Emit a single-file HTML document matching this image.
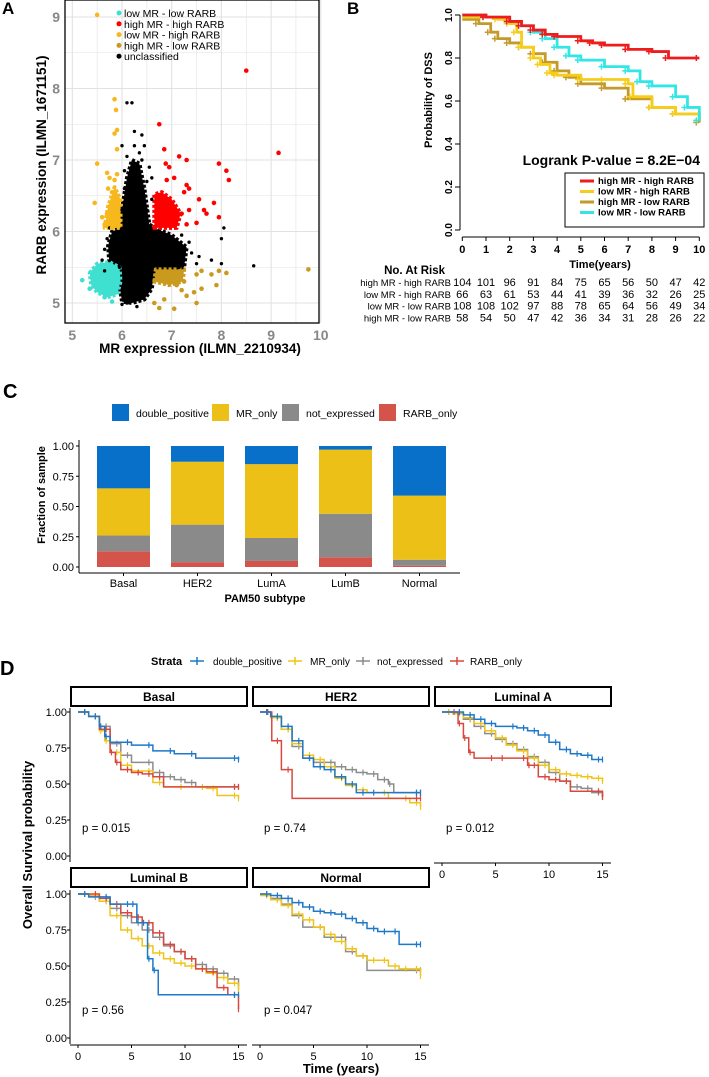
<!DOCTYPE html>
<html><head><meta charset="utf-8">
<style>
html,body{margin:0;padding:0;background:#fff;}
svg{display:block;font-family:"Liberation Sans",sans-serif;}
</style></head>
<body>
<svg id="fig" width="709" height="1077" viewBox="0 0 709 1077" xmlns="http://www.w3.org/2000/svg">
<text x="2" y="14" font-size="17" font-weight="bold">A</text>
<text x="347" y="14" font-size="17" font-weight="bold">B</text>
<text x="3" y="398" font-size="20" font-weight="bold">C</text>
<text x="0" y="675" font-size="20" font-weight="bold">D</text>
<g id="ga"></g>
<g id="gb"></g>
<g id="gc"></g>
<g id="gd"></g>
</svg>
<script>
// ---------- Panel A data ----------
const aYellow=[[5.5,9.03],[5.85,7.85],[5.88,7.7],[5.85,7.37],[5.9,7.42],[5.5,6.95],[5.7,6.82],[5.75,6.75],[5.85,6.72],[5.9,6.8],[5.72,6.6],[5.8,6.55],[5.9,6.5],[5.45,6.4],[5.6,6.2],[5.75,6.35],[5.95,6.15],[5.7,6.25],[5.9,7.15],[5.65,6.1],[5.8,6.05]];
const aRed=[[8.5,8.25],[9.15,7.1],[6.75,7.5],[6.85,7.15],[7.15,7.05],[7.3,7.0],[6.88,6.95],[6.95,6.9],[7.05,6.75],[6.9,6.72],[7.3,6.65],[7.35,6.6],[7.95,6.95],[8.1,6.85],[8.15,6.72],[7.85,6.4],[7.95,6.2],[7.55,6.45],[7.65,6.3],[7.5,6.12],[7.7,6.25],[7.25,6.55],[7.35,6.3],[7.2,6.25],[7.3,6.1]];
const aOlive=[[9.75,5.47],[7.1,5.25],[7.2,5.18],[7.25,5.3],[7.5,5.4],[7.6,5.45],[7.8,5.4],[7.95,5.45],[8.1,5.42],[7.9,5.25],[7.6,5.2],[7.3,5.1],[7.5,5.0],[6.85,5.05],[6.65,5.0],[6.75,4.93],[7.05,4.92],[7.45,5.15]];
const aCyan=[[5.2,5.32],[5.35,5.2],[5.5,5.45],[5.5,5.35],[5.65,5.08],[5.8,5.02],[5.45,5.47]];
const aBlack=[[6.2,7.8],[6.1,7.8],[6.0,7.2],[6.25,7.4],[6.4,7.35],[6.45,7.2],[6.35,7.1],[6.4,7.0],[6.1,7.05],[6.6,6.75],[6.55,6.9],[6.3,6.85],[6.15,6.8],[6.45,6.5],[6.5,6.3],[7.5,5.55],[7.25,5.6],[7.4,5.7],[7.55,5.65],[7.8,5.6],[8.0,5.55],[8.0,5.9],[8.05,6.05],[8.65,5.52],[7.6,5.45],[7.1,5.8],[7.2,5.95],[7.35,5.85],[6.0,4.98],[6.1,5.0],[6.3,4.95],[5.9,5.75],[5.6,5.6],[5.65,5.75],[5.7,5.9],[5.75,6.05],[6.0,6.0],[6.2,6.3],[5.95,5.5],[6.05,6.6],[6.3,6.6],[6.0,6.3],[6.6,6.45],[7.0,5.75],[6.9,5.6],[6.05,6.85],[6.5,6.7],[6.25,7.2],[5.65,5.45],[7.15,5.5]];
const aCoreBlack=[[5.75,5.5],[5.72,5.8],[5.8,6.0],[5.98,6.05],[6.02,6.4],[6.1,6.75],[6.2,7.0],[6.35,6.95],[6.45,6.6],[6.55,6.1],[6.65,6.05],[7.0,5.95],[7.3,5.78],[7.25,5.5],[6.95,5.47],[6.65,5.47],[6.6,5.2],[6.45,5.05],[6.2,5.0],[6.0,5.02],[5.95,5.25]];
const aCoreCyan=[[5.35,5.42],[5.5,5.55],[5.75,5.57],[5.95,5.5],[5.97,5.3],[5.9,5.12],[5.7,5.08],[5.5,5.15],[5.38,5.25]];
const aCoreRed=[[6.65,6.05],[6.65,6.52],[6.8,6.55],[7.0,6.45],[7.18,6.25],[7.1,6.05]];
const aCoreYellow=[[5.65,6.05],[5.72,6.35],[5.85,6.62],[5.97,6.45],[5.97,6.05]];
const aCoreOlive=[[6.65,5.3],[6.68,5.47],[7.25,5.47],[7.22,5.3],[6.95,5.25]];
const aXTicks=[5,6,7,8,9,10], aYTicks=[5,6,7,8,9];
const aLegend=["low MR - low RARB","high MR - high RARB","low MR - high RARB","high MR - low RARB","unclassified"];
// ---------- Panel B data ----------
const bNames=["high MR - high RARB","low MR - high RARB","high MR - low RARB","low MR - low RARB"];
const bRedT=[0,1,2,2.5,3,3.5,4,5,5.5,6,7,8,8.7,10], bRedS=[1,0.99,0.97,0.95,0.93,0.91,0.90,0.88,0.87,0.86,0.84,0.83,0.80,0.80];
const bYelT=[0,1.5,2,2.3,2.5,3,3.3,3.7,4,5,6,7,7.2,8,9,10], bYelS=[0.99,0.98,0.96,0.92,0.85,0.80,0.77,0.73,0.72,0.70,0.70,0.68,0.62,0.57,0.54,0.51];
const bOliT=[0,0.7,1.2,1.5,2,2.5,3,3.5,4,4.5,5,6,7,8,9,10], bOliS=[0.98,0.96,0.92,0.89,0.87,0.85,0.82,0.78,0.74,0.71,0.68,0.66,0.61,0.57,0.54,0.50];
const bCyaT=[0,1,2,2.5,3,3.5,4,4.5,5,6,7,7.5,8,9,9.5,10], bCyaS=[1,0.99,0.97,0.95,0.92,0.89,0.85,0.81,0.79,0.76,0.74,0.69,0.67,0.62,0.57,0.51];
const bXTicks=[0,1,2,3,4,5,6,7,8,9,10], bYTicks=[0,0.2,0.4,0.6,0.8,1.0];
const riskNames=["high MR - high RARB","low MR - high RARB","low MR - low RARB","high MR - low RARB"];
const risk1=[104,101,96,91,84,75,65,56,50,47,42];
const risk2=[66,63,61,53,44,41,39,36,32,26,25];
const risk3=[108,108,102,97,88,78,65,64,56,49,34];
const risk4=[58,54,50,47,42,36,34,31,28,26,22];
// ---------- Panel C data ----------
const cCats=["Basal","HER2","LumA","LumB","Normal"];
const cRarb=[0.13,0.04,0.05,0.08,0.01];
const cNot=[0.13,0.31,0.19,0.36,0.05];
const cMR=[0.39,0.52,0.61,0.53,0.53];
const cDouble=[0.35,0.13,0.15,0.03,0.41];
const cYTicks=[0,0.25,0.5,0.75,1.0];
// ---------- Panel D data ----------
const dPanels=["Basal","HER2","Luminal A","Luminal B","Normal"];
const dPvals=["p = 0.015","p = 0.74","p = 0.012","p = 0.56","p = 0.047"];
const dStrata=["double_positive","MR_only","not_expressed","RARB_only"];
const basalBlueT=[0,1,2,2.5,3,5,7,9,11,15], basalBlueS=[1,0.97,0.9,0.83,0.79,0.77,0.73,0.71,0.68,0.67];
const basalYelT=[0,1,2,2.5,3,4,5,7,8,10,12,13,15], basalYelS=[1,0.97,0.87,0.80,0.72,0.63,0.59,0.51,0.48,0.48,0.47,0.42,0.40];
const basalGryT=[0,1,2,3,4,5,7,8,9,10,11,15], basalGryS=[1,0.97,0.9,0.78,0.70,0.65,0.58,0.55,0.53,0.51,0.48,0.48];
const basalRedT=[0,1,2,3,3.5,4,5,6,7,8,15], basalRedS=[1,0.97,0.88,0.72,0.65,0.60,0.58,0.57,0.55,0.48,0.48];
const her2BlueT=[0,1,2,3,4,5,6,7,8,9,10,11,15], her2BlueS=[1,0.97,0.9,0.8,0.68,0.62,0.60,0.55,0.50,0.44,0.44,0.44,0.44];
const her2YelT=[0,1,2,3,4,5,6,7,8,9,10,12,14,15], her2YelS=[1,0.96,0.88,0.78,0.70,0.67,0.62,0.54,0.49,0.46,0.44,0.40,0.37,0.34];
const her2GryT=[0,1,2,3,4,5,6,7,8,9,10,11,12,12.5,15], her2GryS=[1,0.96,0.88,0.76,0.68,0.65,0.65,0.62,0.60,0.58,0.57,0.53,0.50,0.44,0.44];
const her2RedT=[0,1.1,2,3,15], her2RedS=[1,0.8,0.6,0.4,0.4];
const lumABlueT=[0,2,3,4,5,7,8,9,10,11,12,13,14,15], lumABlueS=[1,0.98,0.95,0.92,0.90,0.89,0.87,0.84,0.79,0.74,0.71,0.70,0.67,0.67];
const lumAYelT=[0,1,2,3,4,5,6,7,8,9,10,11,12,13,14,15], lumAYelS=[1,0.99,0.96,0.92,0.87,0.82,0.77,0.73,0.68,0.63,0.60,0.57,0.56,0.55,0.54,0.52];
const lumAGryT=[0,1,2,3,4,5,6,7,8,9,10,11,12,13,14,15], lumAGryS=[1,0.99,0.95,0.90,0.85,0.81,0.78,0.74,0.69,0.65,0.58,0.52,0.48,0.47,0.44,0.41];
const lumARedT=[0,1.5,2,2.5,3,5,6,8,8.5,9,10,11,12,15], lumARedS=[1,0.92,0.82,0.72,0.68,0.68,0.68,0.63,0.63,0.55,0.53,0.52,0.45,0.41];
const lumBBlueT=[0,1,3,5,5.5,6.5,7,7.5,15], lumBBlueS=[1,0.98,0.93,0.93,0.80,0.55,0.47,0.30,0.30];
const lumBYelT=[0,1,2,3,4,5,6,7,8,9,10,11,12,13,14,15], lumBYelS=[1,0.99,0.95,0.85,0.75,0.69,0.64,0.59,0.55,0.52,0.50,0.48,0.45,0.42,0.38,0.33];
const lumBGryT=[0,1,2,3,4,5,6,7,8,9,10,11,12,13,14,15], lumBGryS=[1,0.98,0.95,0.90,0.85,0.80,0.75,0.70,0.64,0.60,0.55,0.51,0.48,0.45,0.41,0.36];
const lumBRedT=[0,2,3,4,5,6,7,8,9,10,11,12,13,14,15], lumBRedS=[1,0.97,0.93,0.87,0.84,0.80,0.73,0.65,0.60,0.55,0.48,0.46,0.35,0.30,0.20];
const normBlueT=[0,1,2,3,4,5,6,7,8,9,10,11,12,13,15], normBlueS=[1,0.99,0.97,0.94,0.91,0.88,0.87,0.86,0.83,0.80,0.76,0.74,0.74,0.65,0.65];
const normYelT=[0,1,2,3,4,5,6,7,8,9,10,11,12,13,14,15], normYelS=[0.99,0.96,0.92,0.86,0.82,0.77,0.72,0.67,0.62,0.57,0.54,0.54,0.50,0.48,0.48,0.43];
const normGryT=[0,1,2,3,4,6,7,8,9,10,15], normGryS=[1,0.97,0.93,0.85,0.77,0.70,0.70,0.60,0.57,0.47,0.47];
const dXTicks=[0,5,10,15], dYTicks=[0,0.25,0.5,0.75,1.0];

const NS="http://www.w3.org/2000/svg";
function mk(parent,tag,attrs,text){const e=document.createElementNS(NS,tag);for(const k in attrs)e.setAttribute(k,attrs[k]);if(text!==undefined)e.textContent=text;parent.appendChild(e);return e;}
function stepPath(T,S,sx,sy){let d="M"+sx(T[0])+","+sy(S[0]);for(let i=1;i<T.length;i++){d+=" H"+sx(T[i])+" V"+sy(S[i]);}return d;}

// ===== Panel A =====
(function(){
const g=document.getElementById('ga');
const sx=v=>72.3+(v-5)*49.7, sy=v=>303-(v-5)*71.5;
mk(g,'rect',{x:65,y:0,width:254,height:323,fill:'#fff'});
for(let v=5;v<=10;v+=0.5){mk(g,'line',{x1:sx(v),x2:sx(v),y1:0,y2:323,stroke:'#e2e2e2','stroke-width':v%1?0.6:1.1});}
for(let v=5;v<=9;v+=0.5){mk(g,'line',{x1:65,x2:319,y1:sy(v),y2:sy(v),stroke:'#e2e2e2','stroke-width':v%1?0.6:1.1});}
const poly=(pts,c,n)=>{const p=mk(g,'polygon',{points:pts.map(q=>sx(q[0])+','+sy(q[1])).join(' '),fill:c,stroke:c,'stroke-width':4,'stroke-linejoin':'round','stroke-dasharray':'3 2'});

};
poly(aCoreBlack,'#000','unclassified-dense-region');
poly(aCoreCyan,'#40e0d0','low-low-dense-region');
poly(aCoreRed,'#ff0000','high-high-dense-region');
poly(aCoreYellow,'#f6b81c','low-high-dense-region');
poly(aCoreOlive,'#c99a1e','high-low-dense-region');
const pts=(arr,c,r,n)=>arr.forEach(p=>{const e=mk(g,'circle',{cx:sx(p[0]),cy:sy(p[1]),r:r,fill:c});

});
pts(aBlack,'#000',1.7,'point-unclassified');
pts(aCyan,'#40e0d0',2.3,'point-low-low');
pts(aYellow,'#f6b81c',2.3,'point-low-high');
pts(aRed,'#ff0000',2.3,'point-high-high');
pts(aOlive,'#c99a1e',2.3,'point-high-low');
mk(g,'rect',{x:65,y:0,width:254,height:323,fill:'none',stroke:'#000','stroke-width':1.3});
aXTicks.forEach(v=>{const t=mk(g,'text',{x:sx(v),y:340,'font-size':14,'font-weight':'bold',fill:'#888','text-anchor':'middle'},String(v));

});
aYTicks.forEach(v=>{const t=mk(g,'text',{x:60,y:sy(v)+5,'font-size':14,'font-weight':'bold',fill:'#888','text-anchor':'end'},String(v));

});
const xt=mk(g,'text',{x:200,y:353,'font-size':13.5,'font-weight':'bold','text-anchor':'middle'},'MR expression (ILMN_2210934)');


const yt=mk(g,'text',{x:0,y:0,'font-size':13.5,'font-weight':'bold','text-anchor':'middle',transform:'translate(46,165) rotate(-90)'},'RARB expression (ILMN_1671151)');


const lc=['#40e0d0','#ff0000','#f6b81c','#c99a1e','#000'];
aLegend.forEach((s,i)=>{const y=17+i*10.8;
mk(g,'circle',{cx:119,cy:y-4,r:2.5,fill:lc[i]});
const t=mk(g,'text',{x:124,y:y,'font-size':10.5},s);

});
})();

// ===== Panel B =====
(function(){
const g=document.getElementById('gb');
const sx=v=>462.3+v*23.7, sy=v=>230-v*215;
mk(g,'line',{x1:460,x2:460,y1:sy(1),y2:sy(0),stroke:'#000','stroke-width':1});
mk(g,'line',{x1:sx(0),x2:sx(10),y1:237,y2:237,stroke:'#000','stroke-width':1});
bYTicks.forEach(v=>{mk(g,'line',{x1:455,x2:460,y1:sy(v),y2:sy(v),stroke:'#000'});
const t=mk(g,'text',{x:0,y:0,'font-size':10,'font-weight':'bold','text-anchor':'middle',transform:`translate(452,${sy(v)}) rotate(-90)`},v.toFixed(1));

});
bXTicks.forEach(v=>{mk(g,'line',{x1:sx(v),x2:sx(v),y1:237,y2:241,stroke:'#000'});
const t=mk(g,'text',{x:sx(v),y:253,'font-size':11,'font-weight':'bold','text-anchor':'middle'},String(v));

});
const xt=mk(g,'text',{x:600,y:268,'font-size':11,'font-weight':'bold','text-anchor':'middle'},'Time(years)');


const yt=mk(g,'text',{x:0,y:0,'font-size':11,'font-weight':'bold','text-anchor':'middle',transform:'translate(432,100) rotate(-90)'},'Probability of DSS');


const curves=[[bRedT,bRedS,'#ee1c1c','curve-high-high'],[bYelT,bYelS,'#f5cd1a','curve-low-high'],[bOliT,bOliS,'#c49a2c','curve-high-low'],[bCyaT,bCyaS,'#33e6e6','curve-low-low']];
[curves[2],curves[1],curves[3],curves[0]].forEach(c=>{
const p=mk(g,'path',{d:stepPath(c[0],c[1],sx,sy),fill:'none',stroke:c[2],'stroke-width':2.8});


for(let i=1;i<c[0].length;i++){const x=sx(c[0][i])-3,y=sy(c[1][i]);mk(g,'path',{d:`M${x-3},${y}h6M${x},${y-3}v6`,stroke:c[2],'stroke-width':1.5});}
});
const lg=mk(g,'text',{x:700,y:165,'font-size':14,'font-weight':'bold','text-anchor':'end'},'Logrank P-value = 8.2E\u221204');


mk(g,'rect',{x:565,y:173,width:139,height:54,fill:'#fff',stroke:'#000','stroke-width':1});
const lcol=['#ee1c1c','#f5cd1a','#c49a2c','#33e6e6'];
bNames.forEach((s,i)=>{const y=184+i*10.5;
mk(g,'line',{x1:580,x2:594,y1:y-3,y2:y-3,stroke:lcol[i],'stroke-width':3});
const t=mk(g,'text',{x:598,y:y,'font-size':9.5,'font-weight':'bold'},s);

});
const h=mk(g,'text',{x:445,y:274,'font-size':11.5,'font-weight':'bold','text-anchor':'end'},'No. At Risk');


[risk1,risk2,risk3,risk4].forEach((row,r)=>{const y=286+r*11.8;
const t=mk(g,'text',{x:451,y:y,'font-size':9.5,'text-anchor':'end'},riskNames[r]);


row.forEach((v,i)=>{const c=mk(g,'text',{x:sx(i),y:y,'font-size':11,'text-anchor':'middle'},String(v));

});});
})();

// ===== Panel C =====
(function(){
const g=document.getElementById('gc');
const sy=v=>567-v*121, bx=i=>97+i*74, bw=53;
const cols=['#0870c8','#ecc016','#8a8a8a','#d4544c'];
const lx=[112,212,282,379], ltx=[136,236,306,403];
dStrata.forEach((s,i)=>{const r=mk(g,'rect',{x:lx[i],y:404,width:17,height:17,fill:cols[i]});


const t=mk(g,'text',{x:ltx[i],y:417,'font-size':10.5},s);

});
mk(g,'line',{x1:79,x2:79,y1:440,y2:573,stroke:'#000','stroke-width':1});
mk(g,'line',{x1:79,x2:460,y1:573,y2:573,stroke:'#000','stroke-width':1});
cYTicks.forEach(v=>{mk(g,'line',{x1:76,x2:79,y1:sy(v),y2:sy(v),stroke:'#000'});
const t=mk(g,'text',{x:74,y:sy(v)+4,'font-size':11,'text-anchor':'end'},v.toFixed(2));

});
cCats.forEach((c,i)=>{let base=0;
[[cRarb,3,'bar-rarb-only'],[cNot,2,'bar-not-expressed'],[cMR,1,'bar-mr-only'],[cDouble,0,'bar-double-positive']].forEach(s=>{
const v=s[0][i];const r=mk(g,'rect',{x:bx(i),y:sy(base+v),width:bw,height:v*121,fill:cols[s[1]]});


base+=v;});
mk(g,'line',{x1:bx(i)+bw/2,x2:bx(i)+bw/2,y1:573,y2:576,stroke:'#000'});
const t=mk(g,'text',{x:bx(i)+bw/2,y:587,'font-size':11,'text-anchor':'middle'},c);

});
const xt=mk(g,'text',{x:265,y:602,'font-size':11,'font-weight':'bold','text-anchor':'middle'},'PAM50 subtype');


const yt=mk(g,'text',{x:0,y:0,'font-size':11,'font-weight':'bold','text-anchor':'middle',transform:'translate(45,495) rotate(-90)'},'Fraction of sample');


})();

// ===== Panel D =====
(function(){
const g=document.getElementById('gd');
const cols=['#1f78c8','#f0c419','#8c8c8c','#d9483e'];
const st=mk(g,'text',{x:151,y:665,'font-size':11,'font-weight':'bold'},'Strata');


const lx=[190,288,356,450], ltx=[213,310,377,470], lw=[69,40,66,52];
dStrata.forEach((s,i)=>{mk(g,'path',{d:`M${lx[i]},661h14M${lx[i]+7},657v8`,stroke:cols[i],'stroke-width':1.5});
const t=mk(g,'text',{x:ltx[i],y:665,'font-size':10,textLength:lw[i],lengthAdjust:'spacingAndGlyphs'},s);

});
const colX=[70,252,434], rowTop=[687,868], rowY1=[712,894];
const data=[
[[basalBlueT,basalBlueS],[basalYelT,basalYelS],[basalGryT,basalGryS],[basalRedT,basalRedS]],
[[her2BlueT,her2BlueS],[her2YelT,her2YelS],[her2GryT,her2GryS],[her2RedT,her2RedS]],
[[lumABlueT,lumABlueS],[lumAYelT,lumAYelS],[lumAGryT,lumAGryS],[lumARedT,lumARedS]],
[[lumBBlueT,lumBBlueS],[lumBYelT,lumBYelS],[lumBGryT,lumBGryS],[lumBRedT,lumBRedS]],
[[normBlueT,normBlueS],[normYelT,normYelS],[normGryT,normGryS],null]];
dPanels.forEach((name,k)=>{
const c=k%3, r=Math.floor(k/3);
const x0=colX[c], y0=rowTop[r];
const sx=v=>x0+8+v*10.7, sy=v=>rowY1[r]+144-v*144;
const hb=mk(g,'rect',{x:x0+1,y:y0,width:176,height:19,fill:'#fff',stroke:'#000','stroke-width':2});


const ht=mk(g,'text',{x:x0+89,y:y0+14,'font-size':12,'font-weight':'bold','text-anchor':'middle'},name);


if(c===0){mk(g,'line',{x1:x0,x2:x0,y1:rowY1[r]-4,y2:rowY1[r]+150,stroke:'#000','stroke-width':1});
dYTicks.forEach(v=>{mk(g,'line',{x1:x0-3,x2:x0,y1:sy(v),y2:sy(v),stroke:'#000'});
const t=mk(g,'text',{x:x0-3,y:sy(v)+4,'font-size':11,'text-anchor':'end'},v.toFixed(2));

});}
if(r===1||c===2){const ay=rowY1[r]+151;
mk(g,'line',{x1:x0,x2:x0+177,y1:ay,y2:ay,stroke:'#000','stroke-width':1});
dXTicks.forEach(v=>{mk(g,'line',{x1:sx(v),x2:sx(v),y1:ay,y2:ay+3,stroke:'#000'});
const t=mk(g,'text',{x:sx(v),y:ay+15,'font-size':11,'text-anchor':'middle'},String(v));

});}
[2,1,3,0].forEach(i=>{const d=data[k][i];if(!d)return;
const p=mk(g,'path',{d:stepPath(d[0],d[1],sx,sy),fill:'none',stroke:cols[i],'stroke-width':1.5});


for(let j=1;j<d[0].length;j++){const x=sx(d[0][j])-4,y=sy(d[1][j-1]);mk(g,'path',{d:`M${x},${y-3}v6`,stroke:cols[i],'stroke-width':1.2});}
const xe=sx(d[0][d[0].length-1]),ye=sy(d[1][d[1].length-1]);mk(g,'path',{d:`M${xe},${ye-3}v6`,stroke:cols[i],'stroke-width':1.2});
});
const pv=mk(g,'text',{x:x0+12,y:rowY1[r]+120,'font-size':11.5},dPvals[k]);


});
const xt=mk(g,'text',{x:341,y:1073,'font-size':13,'font-weight':'bold','text-anchor':'middle'},'Time (years)');


const yt=mk(g,'text',{x:0,y:0,'font-size':13,'font-weight':'bold','text-anchor':'middle',transform:'translate(32,845) rotate(-90)'},'Overall Survival probability');


})();
</script>
</body></html>
